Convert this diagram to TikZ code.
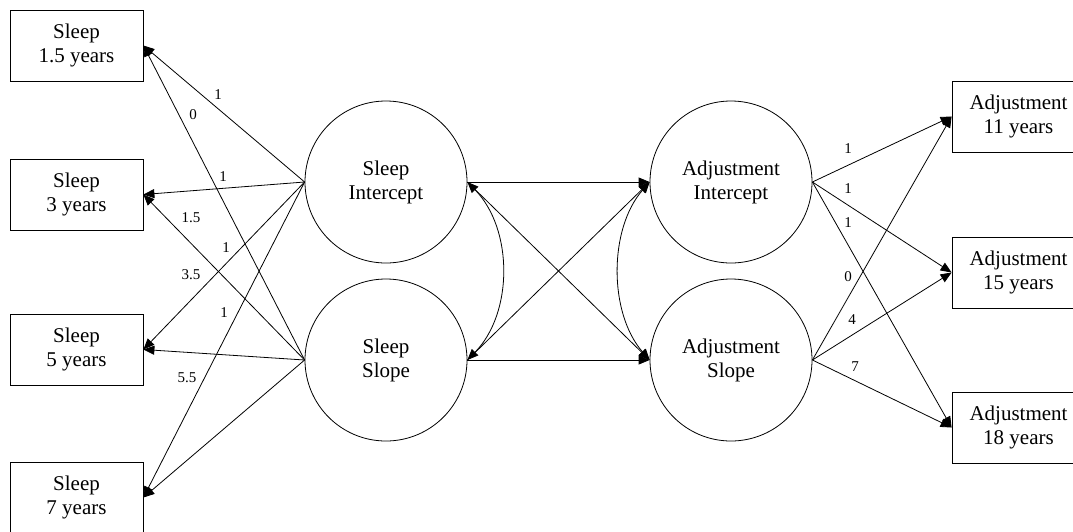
\documentclass[tikz,border=0pt]{standalone}
\usepackage{fontspec}
\setmainfont{Liberation Serif}
\usetikzlibrary{arrows.meta}
\begin{document}
\begin{tikzpicture}[x=1pt,y=-1pt,
 box/.style={draw,line width=0.8pt,minimum width=133pt,minimum height=71pt,align=center,font=\fontsize{21}{24}\selectfont,inner sep=0pt},
 lat/.style={draw,circle,line width=0.8pt,minimum size=162pt,align=center,font=\fontsize{21}{24}\selectfont,inner sep=0pt},
 arr/.style={-{Triangle[length=11pt,width=9pt]},line width=0.8pt},
 cov/.style={{Triangle[length=11pt,width=9pt]}-{Triangle[length=11pt,width=9pt]},line width=0.8pt},
 lab/.style={font=\fontsize{15}{17}\selectfont,inner sep=0pt}
]
\useasboundingbox (0,0) rectangle (1073,531);
% observed sleep
\node[box] (s1) at (76.5,45.5) {Sleep\\1.5 years};
\node[box] (s3) at (76.5,194.5) {Sleep\\3 years};
\node[box] (s5) at (76.5,349.5) {Sleep\\5 years};
\node[box] (s7) at (76.5,497.5) {Sleep\\7 years};
% latent
\node[lat] (si) at (386,182) {Sleep\\Intercept};
\node[lat] (ss) at (386,360) {Sleep\\Slope};
\node[lat] (ai) at (731,182) {Adjustment\\Intercept};
\node[lat] (as) at (731,360) {Adjustment\\Slope};
% observed adjustment
\node[box] (a11) at (1018.5,116.5) {Adjustment\\11 years};
\node[box] (a15) at (1018.5,272.5) {Adjustment\\15 years};
\node[box] (a18) at (1018.5,427.5) {Adjustment\\18 years};
% left loadings
\draw[arr] (si.west) -- (s1.east);
\draw[arr] (si.west) -- (s3.east);
\draw[arr] (si.west) -- (s5.east);
\draw[arr] (si.west) -- (s7.east);
\draw[arr] (ss.west) -- (s1.east);
\draw[arr] (ss.west) -- (s3.east);
\draw[arr] (ss.west) -- (s5.east);
\draw[arr] (ss.west) -- (s7.east);
% middle
\draw[arr] (si.east) -- (ai.west);
\draw[arr] (ss.east) -- (as.west);
\draw[arr] (si.east) -- (as.west);
\draw[arr] (ss.east) -- (ai.west);
\draw[cov] (si.east) .. controls +(46,47) and +(46,-47) .. (ss.east);
\draw[cov] (ai.west) .. controls +(-41,47) and +(-41,-47) .. (as.west);
% right loadings
\draw[arr] (ai.east) -- (a11.west);
\draw[arr] (ai.east) -- (a15.west);
\draw[arr] (ai.east) -- (a18.west);
\draw[arr] (as.east) -- (a11.west);
\draw[arr] (as.east) -- (a15.west);
\draw[arr] (as.east) -- (a18.west);
% labels
\node[lab] (l1) at (218,95) {1};
\node[lab] (l2) at (193,115) {0};
\node[lab] (l3) at (223,177) {1};
\node[lab] (l4) at (191,218) {1.5};
\node[lab] (l5) at (226,248) {1};
\node[lab] (l6) at (191,275) {3.5};
\node[lab] (l7) at (224,313) {1};
\node[lab] (l8) at (187,378) {5.5};
\node[lab] (r1) at (848,149) {1};
\node[lab] (r2) at (848,189) {1};
\node[lab] (r3) at (848,223) {1};
\node[lab] (r4) at (848,277) {0};
\node[lab] (r5) at (852,320) {4};
\node[lab] (r6) at (855,367) {7};
\end{tikzpicture}
\end{document}
